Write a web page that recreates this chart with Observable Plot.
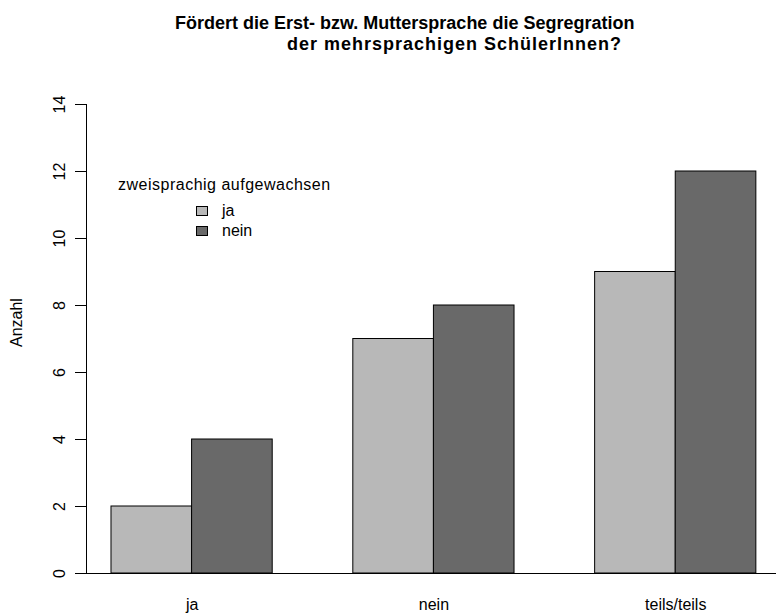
<!DOCTYPE html>
<html>
<head>
<meta charset="utf-8">
<script src="https://cdn.jsdelivr.net/npm/d3@7"></script>
<script src="https://cdn.jsdelivr.net/npm/@observablehq/plot@0.6"></script>
<style>
  html, body { margin: 0; padding: 0; background: #fff; }
  body { width: 776px; height: 614px; position: relative; overflow: hidden; font-family: "Liberation Sans", Arial, sans-serif; }
  #title { position: absolute; left: 0; top: 0; width: 776px; height: 64px; font-weight: bold; font-size: 18px; line-height: 20.5px; color: #000; }
  #title div { white-space: nowrap; position: absolute; }
  #chart { position: absolute; left: 0; top: 64px; }
  #legend { position: absolute; left: 118px; top: 175px; font-size: 16px; color: #000; }
  #legend .lt { white-space: nowrap; line-height: 20px; letter-spacing: 0.5px; margin-bottom: 6px; }
  #legend .row { position: relative; height: 20px; line-height: 20px; margin-left: 78px; padding-left: 26px; white-space: nowrap; }
  #legend .sw { position: absolute; left: 0; top: 5px; width: 10px; height: 8px; border: 1px solid #000; }
</style>
</head>
<body>
<div id="title">
  <div style="left:175px;top:13px;">Fördert die Erst- bzw. Muttersprache die Segregration</div>
  <div style="left:287px;top:33.5px;letter-spacing:1px;">der mehrsprachigen SchülerInnen?</div>
</div>
<div id="chart"></div>
<div id="legend"></div>
<script>
// ---- data ----
const categories = ["ja", "nein", "teils/teils"];
const series = ["ja", "nein"];
const valuesJa = [2, 7, 9];
const valuesNein = [4, 8, 12];
const yTicks = [0, 2, 4, 6, 8, 10, 12, 14];
const legendTitle = "zweisprachig aufgewachsen";
const yLabel = "Anzahl";
const colors = ["#B8B8B8", "#696969"];

// ---- build table (R barplot beside=TRUE layout: bars width 1, group gap 1) ----
const seriesValues = [valuesJa, valuesNein];
const gap = 1;
const rows = [];
categories.forEach((cat, i) => {
  series.forEach((s, j) => {
    const x1 = i * (series.length + gap) + gap + j;
    rows.push({cat, series: s, value: seriesValues[j][i], x1, x2: x1 + 1});
  });
});
const centers = categories.map((c, i) => i * (series.length + gap) + gap + series.length / 2);
const nUnits = categories.length * (series.length + gap);
const xDomain = [gap - 0.31, nUnits + 0.25];

const chart = Plot.plot({
  width: 776,
  height: 550,
  marginLeft: 86,
  marginRight: 0,
  marginTop: 40,
  marginBottom: 41,
  style: {fontFamily: "'Liberation Sans', Arial, sans-serif", fontSize: "16px", color: "#000", background: "#fff"},
  x: {domain: xDomain, axis: null},
  y: {domain: [yTicks[0], yTicks[yTicks.length - 1]], axis: null},
  color: {domain: series, range: colors},
  marks: [
    Plot.rectY(rows, {x1: "x1", x2: "x2", y1: 0, y2: "value", fill: "series", stroke: "#000", strokeWidth: 1, inset: 0}),
    Plot.ruleY([0], {stroke: "#000", strokeWidth: 1}),
    Plot.ruleX([xDomain[0]], {y1: yTicks[0], y2: yTicks[yTicks.length - 1], stroke: "#000", strokeWidth: 1}),
    Plot.axisY({ticks: yTicks, tickSize: 11, tickRotate: -90, tickPadding: 11, label: null, stroke: "#000", tickFormat: d => String(d)}),
    Plot.axisX({ticks: centers, tickSize: 0, tickPadding: 25, label: null, tickFormat: (d) => categories[centers.indexOf(d)]}),
    Plot.text([yLabel], {frameAnchor: "left", rotate: -90, dx: -70, dy: 8, fontSize: 16, fill: "#000"})
  ]
});
document.getElementById("chart").appendChild(chart);

// ---- legend ----
const legend = document.getElementById("legend");
const lt = document.createElement("div");
lt.className = "lt";
lt.textContent = legendTitle;
legend.appendChild(lt);
series.forEach((s, j) => {
  const row = document.createElement("div");
  row.className = "row";
  const sw = document.createElement("span");
  sw.className = "sw";
  sw.style.background = colors[j];
  row.appendChild(sw);
  row.appendChild(document.createTextNode(s));
  legend.appendChild(row);
});
</script>
</body>
</html>
